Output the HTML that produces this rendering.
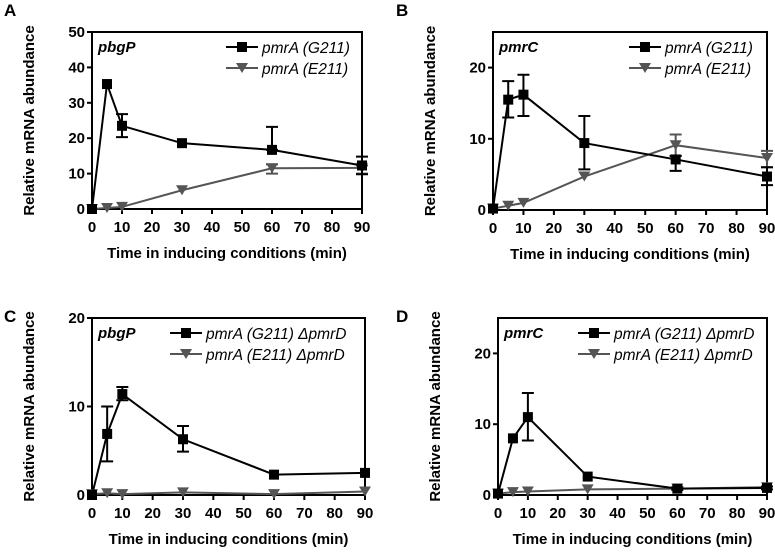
<!DOCTYPE html>
<html><head><meta charset="utf-8"><style>
body{margin:0;background:#fff}
svg{display:block;font-family:"Liberation Sans",Arial,sans-serif}
</style></head><body>
<svg id="s" width="775" height="552"></svg>
<script>
const xTicks=[0,10,20,30,40,50,60,70,80,90];
const times=[0,5,10,30,60,90];
const aG=[0,35.3,23.5,18.6,16.7,12.3];
const aGlo=[0,35.3,20.3,18.6,16.7,9.8];
const aGhi=[0,35.3,26.8,18.6,23.2,14.8];
const aE=[0,0.3,0.6,5.3,11.5,11.6];
const aElo=[0,0.3,0.6,5.3,10,10];
const aEhi=[0,0.3,0.6,5.3,12.6,12.3];
const bG=[0.2,15.5,16.2,9.4,7.1,4.7];
const bGlo=[0.2,13,13.2,5.7,5.5,3.5];
const bGhi=[0.2,18.1,19,13.2,7.6,6];
const bE=[0.2,0.6,1.0,4.7,9.1,7.3];
const bElo=[0.2,0.6,1.0,4.7,7.6,6];
const bEhi=[0.2,0.6,1.0,4.7,10.6,8.3];
const cG=[0,6.9,11.4,6.3,2.3,2.5];
const cGlo=[0,3.8,10.7,4.9,2.3,2.5];
const cGhi=[0,10,12.2,7.8,2.3,2.5];
const cE=[0.1,0.2,0.1,0.3,0.1,0.4];
const dG=[0.2,8,11,2.6,0.9,1];
const dGlo=[0.2,8,7.7,2.6,0.7,0.8];
const dGhi=[0.2,8,14.4,2.6,1.1,1.2];
const dE=[0.2,0.4,0.5,0.8,0.9,1.1];
const yTicksA=[0,10,20,30,40,50],yTicksB=[0,10,20],yTicksC=[0,10,20],yTicksD=[0,10,20];
const NS="http://www.w3.org/2000/svg";
const svg=document.getElementById('s');
function el(t,a,p){const e=document.createElementNS(NS,t);for(const k in a)e.setAttribute(k,a[k]);(p||svg).appendChild(e);return e;}
function panel(o){
  const g=el('g',{});
  
  
  const X=v=>o.x0+(o.x1-o.x0)*v/90, Y=v=>o.y0-(o.y0-o.yt)*v/o.ymax;
  let t=el('text',{x:o.lx,y:o.ly,'font-size':17,'font-weight':'bold'},g);t.textContent=o.id;
  
  const box=el('rect',{x:o.x0,y:o.yt,width:o.x1-o.x0,height:o.y0-o.yt,fill:'none',stroke:'#000','stroke-width':2},g);
  
  xTicks.forEach(v=>{el('line',{x1:X(v),x2:X(v),y1:o.y0,y2:o.y0+5,stroke:'#000','stroke-width':2},g);
    const tt=el('text',{x:X(v),y:o.y0+23,'font-size':15,'font-weight':'bold','text-anchor':'middle'},g);tt.textContent=v;
    });
  o.yt2.forEach(v=>{el('line',{x1:o.x0-5,x2:o.x0,y1:Y(v),y2:Y(v),stroke:'#000','stroke-width':2},g);
    const tt=el('text',{x:o.x0-7,y:Y(v)+5,'font-size':15,'font-weight':'bold','text-anchor':'end'},g);tt.textContent=v;
    });
  t=el('text',{x:(o.x0+o.x1)/2,y:o.y0+49,'font-size':15,'font-weight':'bold','text-anchor':'middle'},g);t.textContent='Time in inducing conditions (min)';
  
  const yc=(o.y0+o.yt)/2;
  t=el('text',{x:o.x0-58,y:yc,'font-size':15,'font-weight':'bold','text-anchor':'middle',transform:`rotate(-90 ${o.x0-58} ${yc})`},g);t.textContent='Relative mRNA abundance';
  
  t=el('text',{x:o.x0+6,y:o.yt+20,'font-size':15,'font-weight':'bold','font-style':'italic'},g);t.textContent=o.gene;
  
  function series(vals,lo,hi,col,tri,name){
    const sg=el('g',{},g);
    
    el('polyline',{points:times.map((t,i)=>X(t)+','+Y(vals[i])).join(' '),fill:'none',stroke:col,'stroke-width':2},sg);
    if(lo)times.forEach((t,i)=>{if(hi[i]-lo[i]<0.01)return;const x=X(t);
      el('path',{d:`M${x},${Y(lo[i])}V${Y(hi[i])}M${x-6},${Y(lo[i])}h12M${x-6},${Y(hi[i])}h12`,stroke:col,'stroke-width':2,fill:'none'},sg);});
    times.forEach((t,i)=>{const x=X(t),y=Y(vals[i]);let m;
      if(tri)m=el('path',{d:`M${x-6},${y-5}h12l-6,10z`,fill:col},sg);
      else m=el('rect',{x:x-5,y:y-5,width:10,height:10,fill:col},sg);
      });
  }
  series(o.e,o.elo,o.ehi,'#555',true,'series-E211');
  series(o.g,o.glo,o.ghi,'#000',false,'series-G211');
  [[o.leg[0],'#000',false],[o.leg[1],'#555',true]].forEach((L,i)=>{
    const y=o.yt+15+i*21, x=o.legx;
    const lg=el('g',{},g);
    el('line',{x1:x,x2:x+32,y1:y,y2:y,stroke:L[1],'stroke-width':2},lg);
    if(L[2])el('path',{d:`M${x+10},${y-5}h12l-6,10z`,fill:L[1]},lg);else el('rect',{x:x+11,y:y-5,width:10,height:10,fill:L[1]},lg);
    const tt=el('text',{x:x+36,y:y+6,'font-size':15.5,'font-style':'italic'},lg);tt.textContent=L[0];
  });
}
panel({id:'A',lx:4,ly:16,x0:92,x1:362,y0:209,yt:32,ymax:50,yt2:yTicksA,gene:'pbgP',g:aG,glo:aGlo,ghi:aGhi,e:aE,elo:aElo,ehi:aEhi,leg:['pmrA (G211)','pmrA (E211)'],legx:226});
panel({id:'B',lx:396,ly:16,x0:493,x1:767,y0:210,yt:32,ymax:25,yt2:yTicksB,gene:'pmrC',g:bG,glo:bGlo,ghi:bGhi,e:bE,elo:bElo,ehi:bEhi,leg:['pmrA (G211)','pmrA (E211)'],legx:629});
panel({id:'C',lx:4,ly:322,x0:92,x1:365,y0:495,yt:318,ymax:20,yt2:yTicksC,gene:'pbgP',g:cG,glo:cGlo,ghi:cGhi,e:cE,leg:['pmrA (G211) ΔpmrD','pmrA (E211) ΔpmrD'],legx:170});
panel({id:'D',lx:396,ly:322,x0:498,x1:767,y0:495,yt:318,ymax:25,yt2:yTicksD,gene:'pmrC',g:dG,glo:dGlo,ghi:dGhi,e:dE,leg:['pmrA (G211) ΔpmrD','pmrA (E211) ΔpmrD'],legx:578});
</script>
</body></html>
